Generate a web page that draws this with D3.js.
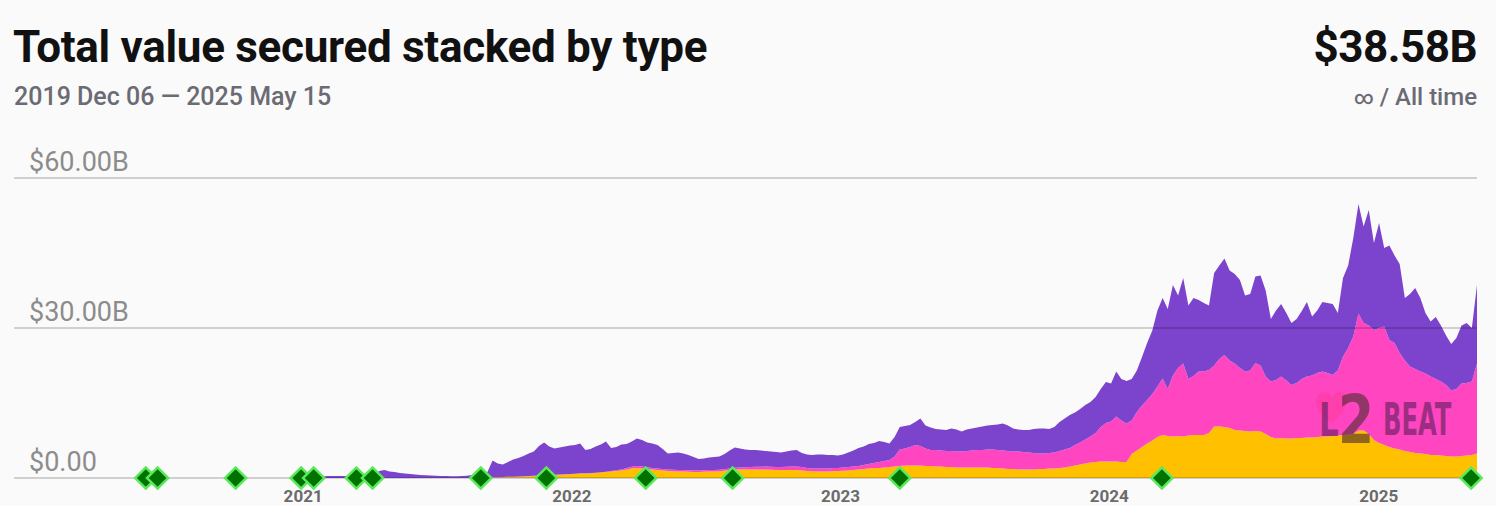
<!DOCTYPE html>
<html><head><meta charset="utf-8">
<script src="https://cdn.jsdelivr.net/npm/d3@7"></script>
<style>
html,body{margin:0;padding:0;background:#fafafa;}
svg{display:block;font-family:Roboto,"Noto Sans",sans-serif;}
</style></head><body>
<svg id="chart" width="1496" height="506"></svg>
<script>
// ---- data (values in billions USD, weekly samples ending on endDate) ----
const startDate = "2019-12-06";
const endDate = "2025-05-15";
const stepDays = 7;

const canonical = [
0.02,0.02,0.02,0.02,0.02,0.3,0.4,0.4,0.4,0.4,
0.4,0.4,0.4,0.4,0.4,0.4,1.4,1.6,1.3,1.2,
1.0,0.9,0.8,0.7,0.6,0.55,0.5,0.45,0.4,0.4,
0.35,0.35,0.4,0.45,0.6,0.8,1.0,1.2,3.35,2.73,
2.5,2.97,3.45,3.7,4.05,4.5,4.85,5.9,6.55,5.7,
5.25,5.4,5.55,5.7,5.75,5.95,4.65,4.8,5.25,5.55,
6.05,4.6,4.65,5.0,4.8,5.05,5.5,5.3,4.95,4.9,
4.7,4.0,3.2,3.35,3.5,3.3,3.05,2.7,2.3,2.35,
2.5,2.6,2.65,3.05,3.6,4.05,3.8,3.55,3.4,3.35,
3.25,3.1,3.05,3.0,2.9,3.05,3.2,3.3,2.8,2.7,
2.7,2.8,2.8,2.7,2.6,2.5,2.6,2.9,3.2,3.6,
3.7,4.0,4.0,4.2,3.8,3.3,3.9,4.5,4.5,4.4,
4.6,5.5,4.6,4.5,4.2,4.2,4.2,4.5,4.4,4.0,
4.3,4.4,4.5,4.7,4.8,4.9,5.1,5.4,5.1,4.6,
4.4,4.4,4.5,4.8,5.0,5.0,4.8,5.1,5.8,6.2,
6.6,6.5,6.7,6.9,6.9,7.2,7.6,8.2,7.6,9.0,
8.3,8.5,8.3,8.3,9.7,11.4,12.7,15.2,16.1,16.0,
18.1,14.5,17.1,14.7,15.6,14.3,13.7,12.9,18.5,18.7,
19.3,18.0,17.9,17.6,15.2,15.3,17.3,18.0,17.2,12.5,
13.9,14.5,13.5,12.4,12.8,13.6,14.9,11.8,12.5,13.9,
14.0,14.2,11.5,15.7,16.5,19.7,21.9,19.3,23.1,17.4,
21.0,15.7,18.9,17.5,17.8,12.5,14.5,16.2,14.7,12.1,
11.0,12.4,11.2,9.9,9.3,10.2,11.6,12.0,10.7,15.68
];

const native = [
0,0,0,0,0,0,0,0,0,0,
0,0,0,0,0,0,0,0,0,0,
0,0,0,0,0,0,0,0,0,0,
0,0,0,0,0,0,0,0,0.05,0.05,
0.05,0.05,0.05,0.05,0.05,0.05,0.05,0.05,0.05,0.05,
0.05,0.05,0.05,0.05,0.05,0.05,0.05,0.05,0.05,0.05,
0.05,0.1,0.15,0.2,0.3,0.35,0.4,0.4,0.35,0.3,
0.3,0.3,0.3,0.3,0.3,0.3,0.3,0.3,0.3,0.3,
0.3,0.3,0.3,0.3,0.3,0.35,0.4,0.45,0.5,0.55,
0.55,0.6,0.6,0.6,0.6,0.65,0.7,0.7,0.7,0.6,
0.55,0.6,0.6,0.6,0.65,0.6,0.65,0.7,0.7,0.7,
0.8,0.9,1.0,1.2,1.3,1.4,2.0,3.3,3.4,3.7,
4.1,3.9,3.5,3.2,3.3,3.2,3.2,3.2,3.2,3.2,
3.3,3.4,3.5,3.5,3.6,3.7,3.6,3.6,3.6,3.5,
3.6,3.5,3.4,3.3,3.1,3.1,3.1,3.2,3.4,3.6,
3.7,4.1,4.4,4.8,5.2,5.8,6.9,7.7,8.0,9.0,
8.3,7.7,6.7,7.7,8.3,8.7,9.3,10.1,11.3,9.4,
12.2,13.6,14.6,11.3,11.8,12.7,12.7,12.6,12.2,13.5,
14.4,13.5,13.3,12.5,11.9,12.2,13.6,13.2,11.5,11.1,
11.7,12.3,11.6,10.7,11.0,11.8,12.2,12.4,12.8,13.0,
12.7,12.2,13.0,15.7,17.3,19.5,23.4,21.5,21.7,22.0,
23.0,23.7,21.4,21.1,19.3,18.1,17.1,16.8,16.4,16.1,
15.7,15.2,14.8,14.2,13.2,13.5,14.5,14.5,14.7,18.0
];

const external = [
0,0,0,0,0,0,0,0,0,0,
0,0,0,0,0,0,0,0,0,0,
0,0,0,0,0,0,0,0,0,0,
0,0,0,0,0,0,0,0,0.1,0.12,
0.15,0.18,0.2,0.25,0.3,0.35,0.4,0.45,0.5,0.55,
0.6,0.65,0.7,0.75,0.8,0.9,0.9,0.95,1.0,1.1,
1.2,1.3,1.4,1.5,1.7,1.9,2.0,1.9,1.8,1.7,
1.6,1.5,1.4,1.35,1.3,1.3,1.25,1.2,1.2,1.25,
1.3,1.3,1.35,1.45,1.6,1.7,1.7,1.7,1.7,1.7,
1.7,1.7,1.65,1.6,1.6,1.6,1.6,1.6,1.5,1.4,
1.35,1.3,1.3,1.3,1.35,1.4,1.45,1.5,1.6,1.7,
1.8,1.9,2.0,2.0,2.1,2.2,2.3,2.4,2.5,2.5,
2.5,2.5,2.4,2.4,2.3,2.3,2.2,2.2,2.1,2.1,
2.1,2.1,2.1,2.1,2.1,2.0,2.0,1.9,1.8,1.8,
1.7,1.7,1.7,1.7,1.8,1.8,1.9,1.9,2.0,2.1,
2.3,2.5,2.7,2.9,3.1,3.2,3.3,3.3,3.3,3.3,
3.2,3.2,4.8,5.5,6.2,6.9,7.5,8.2,8.6,8.4,
8.3,8.4,8.3,8.5,8.6,8.6,8.6,9.0,10.3,10.3,
10.2,10.0,9.6,9.5,9.4,9.3,9.4,9.3,8.8,8.2,
7.9,8.0,7.9,7.9,8.0,8.0,8.1,8.1,8.2,8.3,
8.3,8.4,8.5,8.6,8.7,8.8,9.5,9.5,8.8,7.6,
7.0,6.6,6.2,5.9,5.7,5.4,5.2,5.0,4.9,4.8,
4.6,4.6,4.5,4.4,4.3,4.3,4.4,4.5,4.6,4.9
];

const seriesKeys = ["external", "native", "canonical"];
const seriesColors = ["#ffc000", "#ff46c0", "#7c44cc"];
const yTicks = [0, 30, 60];
const yTickLabels = ["$0.00", "$30.00B", "$60.00B"];
const yearTicks = ["2021", "2022", "2023", "2024", "2025"];
const milestones = ["2020-06-02","2020-06-18","2020-10-02","2020-12-30","2021-01-16",
  "2021-03-15","2021-04-06","2021-08-31","2021-11-28","2022-04-12","2022-08-08",
  "2023-03-23","2024-03-13","2025-05-07"];
const titleText = "Total value secured stacked by type";
const rangeText = "2019 Dec 06 \u2014 2025 May 15";
const totalText = "$38.58B";
const periodSymbol = "\u221e";
const periodText = " / All time";

// ---- chart ----
const svg = d3.select("#chart");
const W = 1496;
const parse = d3.utcParse("%Y-%m-%d");
const end = parse(endDate);
const n = canonical.length;
const rows = d3.range(n).map(i => ({
  date: d3.utcDay.offset(end, -(n - 1 - i) * stepDays),
  external: external[i], native: native[i], canonical: canonical[i]
}));

const x = d3.scaleUtc().domain([parse(startDate), end]).range([14, 1477]);
const y = d3.scaleLinear().domain([0, 60]).range([478, 178]);

svg.append("rect").attr("width", W).attr("height", 506).attr("fill", "#fafafa");

// header
svg.append("text").attr("x", 13).attr("y", 62).attr("fill", "#111")
  .attr("font-size", 44).attr("font-weight", 700).attr("letter-spacing", -0.3).text(titleText);
svg.append("text").attr("x", 14).attr("y", 105).attr("fill", "#6b6b74")
  .attr("font-size", 25).attr("font-weight", 500).text(rangeText);
svg.append("text").attr("x", 1477).attr("y", 62).attr("text-anchor", "end").attr("fill", "#111")
  .attr("font-size", 44).attr("font-weight", 700).attr("letter-spacing", -0.5).text(totalText);
const pt = svg.append("text").attr("x", 1477).attr("y", 105).attr("text-anchor", "end").attr("fill", "#6b6b74")
  .attr("font-size", 24).attr("font-weight", 500);
pt.append("tspan").attr("font-size", 19).attr("dy", -1).text(periodSymbol);
pt.append("tspan").attr("dy", 1).text(periodText);

// areas
const stacked = d3.stack().keys(seriesKeys)(rows);
const area = d3.area().x(d => x(d.data.date)).y0(d => y(d[0])).y1(d => y(d[1]));
svg.append("g").selectAll("path").data(stacked).join("path")
  .attr("d", area).attr("fill", (d, i) => seriesColors[i]);

// grid lines + labels
const grid = svg.append("g");
grid.selectAll("line").data(yTicks).join("line")
  .attr("x1", 14).attr("x2", 1477).attr("y1", d => y(d)).attr("y2", d => y(d))
  .attr("stroke", "rgba(0,0,0,0.22)").attr("stroke-width", 1.5);
grid.selectAll("text").data(yTicks).join("text")
  .attr("x", 29).attr("y", d => y(d) - 7).attr("fill", "#8c8c8c")
  .attr("font-size", 27).text((d, i) => yTickLabels[i]);

// watermark
const wm = svg.append("g").attr("transform", "translate(1316,392)");
wm.append("path").attr("d", "M14 30 C-6 16 -2 0 9 0 C13 0 15 3 16 6 C17 3 20 0 24 0 C34 0 36 16 14 32 Z")
  .attr("fill", "#ff3a9a").attr("opacity", 0.55);
wm.append("text").attr("transform", "translate(3,44) scale(0.75,1)").attr("font-size", 46).attr("font-weight", 700)
  .attr("fill", "#5a1f5a").attr("opacity", 0.6).attr("font-family", "DejaVu Sans Condensed, sans-serif").text("L");
wm.append("text").attr("transform", "translate(22,51) scale(0.85,1)").attr("font-size", 68).attr("font-weight", 700)
  .attr("fill", "#4a2a30").attr("opacity", 0.6).attr("font-family", "DejaVu Sans Condensed, sans-serif").text("2");
wm.append("text").attr("transform", "translate(67,43) scale(0.6,1)").attr("font-size", 45).attr("font-weight", 700)
  .attr("fill", "#5a1f5a").attr("opacity", 0.6).attr("font-family", "DejaVu Sans Condensed, sans-serif").text("BEAT");

// x axis year labels
const xa = svg.append("g").attr("transform", "translate(0,478)")
  .call(d3.axisBottom(x).tickValues(yearTicks.map(t => parse(t + "-01-01"))).tickFormat(d3.utcFormat("%Y")).tickSize(0).tickPadding(12));
xa.select(".domain").remove();
xa.selectAll("text").attr("font-size", 17).attr("font-weight", 700).attr("fill", "#6b6b6b")
  .attr("font-family", "Roboto, sans-serif");

// milestones
svg.append("g").selectAll("rect").data(milestones).join("rect")
  .attr("x", -7.5).attr("y", -7.5).attr("width", 15).attr("height", 15)
  .attr("transform", d => `translate(${x(parse(d))},478) rotate(45)`)
  .attr("fill", "#007200").attr("stroke", "#5be85b").attr("stroke-width", 2.5);
</script></body></html>
